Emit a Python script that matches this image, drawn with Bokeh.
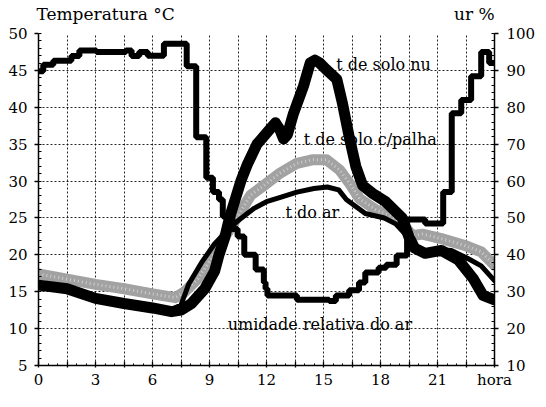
from bokeh.plotting import figure
from bokeh.models import Range1d, LinearAxis, FixedTicker, CustomJSTickFormatter
from bokeh.core.properties import value
from bokeh.embed import file_html
from bokeh.resources import INLINE

FONT = "DejaVu Serif"

# ---- data ----
# t de solo nu (bare soil temperature, degC)
sn_hours = [0, 1.5, 3, 4.5, 6, 7, 7.5, 8.05, 8.75, 9.27, 9.5, 9.8, 10.05, 10.35, 10.65, 11.0, 11.5, 12.0,
            12.47, 12.7, 12.9, 13.1, 13.4, 13.95, 14.3, 14.55, 14.8, 15.15, 15.7, 16.0, 16.36, 16.7, 17.06,
            17.6, 18.27, 19.14, 19.5, 19.8, 20.35, 21.2, 22.1, 22.9, 23.4, 24.0]
sn_temp = [15.9, 15.4, 14.1, 13.4, 12.8, 12.3, 12.5, 13.4, 15.4, 17.8, 20.0, 22.3, 25.0, 27.5, 30.0, 32.3,
           35.0, 36.5, 37.9, 37.0, 35.7, 36.3, 39.0, 42.9, 46.0, 46.4, 46.0, 45.1, 43.8, 40.5, 35.9, 32.0,
           29.4, 28.3, 27.2, 25.0, 22.4, 20.9, 20.2, 20.6, 19.3, 16.7, 14.5, 13.9]

# t de solo c/palha (soil with straw, degC)
cp_hours = [0, 1.5, 3, 4.5, 6, 7.2, 7.7, 8.4, 9.1, 9.6, 10.0, 10.65, 11.17, 11.86, 12.73, 13.6, 14.46,
            15.15, 15.85, 16.4, 16.9, 17.75, 18.6, 19.3, 19.7, 20.2, 21.2, 22.4, 23.3, 24.0]
cp_temp = [17.4, 16.7, 16.0, 15.4, 14.7, 14.2, 15.0, 16.8, 19.5, 21.8, 23.2, 25.9, 28.1, 29.4, 31.1, 32.4,
           32.9, 32.9, 31.5, 29.6, 27.6, 26.1, 25.2, 23.7, 22.6, 22.8, 22.2, 21.3, 20.4, 18.6]

# t do ar (air temperature, degC)
ar_hours = [0, 1.5, 3, 4.5, 6, 7, 7.5, 7.9, 8.57, 9.27, 9.96, 10.48, 11.35, 12.0, 12.73, 13.6, 14.5, 15.2,
            15.8, 16.2, 17.2, 18.2, 18.8, 19.3, 19.8, 20.35, 21.2, 21.73, 22.6, 23.3, 24.0]
ar_temp = [15.8, 15.3, 14.2, 13.5, 12.9, 12.6, 13.2, 16.0, 18.9, 21.5, 23.3, 24.6, 26.3, 27.2, 27.8, 28.5,
           29.0, 29.2, 28.8, 27.5, 25.6, 25.0, 24.2, 22.8, 21.0, 20.4, 20.7, 20.6, 19.5, 18.5, 16.5]

# umidade relativa do ar (%), stepped
rh_hours = [0, 0.25, 0.78, 1.73, 2.15, 3.05, 4.6, 4.9, 5.3, 5.75, 6.6, 7.8, 8.3, 8.83, 9.18, 9.5, 9.7,
            10.2, 10.48, 10.83, 11.43, 11.86, 11.95, 12.05, 13.6, 15.3, 15.65, 16.35, 16.87, 17.2, 17.9,
            18.3, 18.85, 19.4, 20.35, 21.3, 21.75, 22.25, 22.77, 23.3, 23.72, 24.0]
rh_values = [89.8, 91.5, 92.6, 93.9, 95.4, 95.0, 95.4, 93.9, 95.0, 94.0, 97.2, 91.1, 71.9, 60.9, 57.0,
             55.0, 50.4, 47.0, 45.0, 40.0, 36.0, 32.5, 30.8, 29.0, 27.8, 27.5, 29.0, 30.4, 32.5, 35.2,
             36.5, 37.3, 39.8, 49.6, 48.5, 57.0, 78.4, 82.0, 88.4, 95.0, 92.0, 92.0]

series_labels = ["t de solo nu", "t de solo c/palha", "t do ar", "umidade relativa do ar"]
series_label_x = [15.67, 13.96, 13.0, 9.96]
series_label_y = [45.8, 35.7, 25.7, 10.6]

axis_titles = ["Temperatura °C", "ur %"]
axis_title_x = [3.53, 22.94]

left_ticks = list(range(5, 51, 5))
right_ticks = list(range(10, 101, 10))
hour_ticks = [i * 1.5 for i in range(17)]
hour_minor = [i * 0.5 for i in range(49)]

# ---- figure ----
p = figure(width=538, height=391, x_range=Range1d(0, 24), y_range=Range1d(5, 50),
           output_backend="svg", toolbar_location=None,
           min_border_left=38, min_border_right=37, min_border_top=33, min_border_bottom=22,
           outline_line_color=None, background_fill_color="white", border_fill_color="white")
p.extra_y_ranges = {"ur": Range1d(10, 100)}

xa = p.xaxis[0]
ya = p.yaxis[0]
xa.ticker = FixedTicker(ticks=hour_ticks, minor_ticks=hour_minor)
xa.formatter = CustomJSTickFormatter(
    code="if (tick > 23.9) { return 'hora'; } return (Math.abs(tick % 3) < 1e-6) ? tick.toFixed(0) : '';")
ya.ticker = FixedTicker(ticks=left_ticks, minor_ticks=list(range(5, 51)))

ra = LinearAxis(y_range_name="ur",
                ticker=FixedTicker(ticks=right_ticks, minor_ticks=list(range(10, 101, 2))))
p.add_layout(ra, "right")

# top "axis" that carries the two axis titles
ta = LinearAxis(ticker=FixedTicker(ticks=axis_title_x, minor_ticks=[]),
                formatter=CustomJSTickFormatter(
                    args=dict(names=axis_titles, pos=axis_title_x),
                    code="return names[pos.indexOf(tick)] || '';"))
ta.axis_line_color = None
ta.major_tick_line_color = None
ta.minor_tick_line_color = None
ta.major_tick_in = 0
ta.major_tick_out = 0
ta.major_label_standoff = 10
ta.major_label_text_font = FONT
ta.major_label_text_font_size = "17px"
ta.major_label_text_color = "black"
p.add_layout(ta, "above")

for ax in (xa, ya, ra):
    ax.axis_line_color = "black"
    ax.axis_line_width = 1.5
    ax.major_tick_line_color = "black"
    ax.major_tick_line_width = 1.3
    ax.minor_tick_line_color = "black"
    ax.major_label_text_color = "black"
    ax.major_label_text_font = FONT
    ax.major_label_text_font_size = "15px"

xa.major_tick_in = 4
xa.major_tick_out = 2
xa.minor_tick_in = 2
xa.minor_tick_out = 0
xa.major_label_standoff = 3

for ax in (ya, ra):
    ax.major_tick_in = 0
    ax.major_tick_out = 4
    ax.minor_tick_in = 3
    ax.minor_tick_out = 0
ya.major_label_standoff = 7
ra.major_label_standoff = 8

for g in (p.xgrid[0], p.ygrid[0]):
    g.grid_line_color = "black"
    g.grid_line_dash = "2 2"
    g.grid_line_alpha = 0.85
    g.grid_line_width = 1

# in-plot series labels (drawn under the curves)
p.text(x=series_label_x, y=series_label_y, text=series_labels,
       text_font=value(FONT), text_font_size="16px", text_color="black",
       text_align="left", text_baseline="alphabetic")

# curves
p.line(cp_hours, cp_temp, line_color="#a2a2a2", line_width=11, line_join="round", line_cap="round")
p.line(cp_hours, cp_temp, line_color="#cdcdcd", line_width=3, line_dash="1 3", line_join="round")
p.line(ar_hours, ar_temp, line_color="black", line_width=5, line_join="round", line_cap="round")
p.line(sn_hours, sn_temp, line_color="black", line_width=11, line_join="round", line_cap="round")
p.step(rh_hours, rh_values, mode="after", y_range_name="ur", line_color="black", line_width=6)

open("out.html", "w").write(file_html(p, INLINE))
